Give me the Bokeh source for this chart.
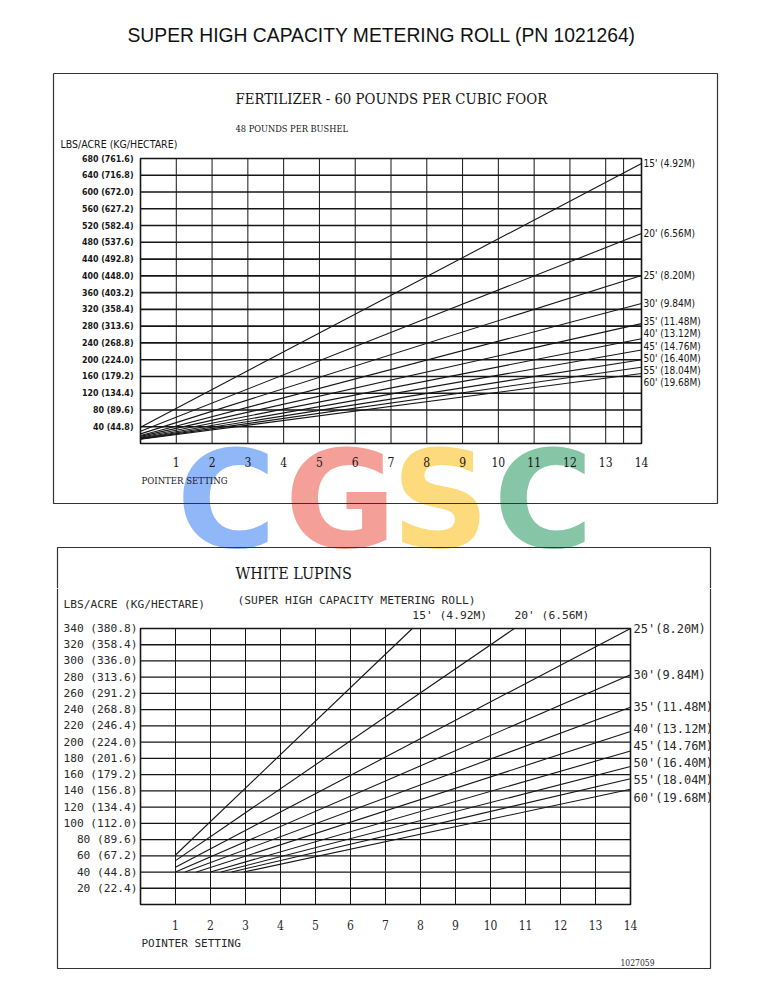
from bokeh.plotting import figure
from bokeh.models import Range1d, FixedTicker, Label, LinearAxis
from bokeh.layouts import column
from bokeh.embed import file_html
from bokeh.resources import INLINE

# ---------------- data ----------------
main_title = "SUPER HIGH CAPACITY METERING ROLL  (PN  1021264)"

settings = list(range(1, 15))

# top chart: fertilizer
top_title = "FERTILIZER - 60 POUNDS PER CUBIC FOOR"
top_subtitle = "48 POUNDS PER BUSHEL"
top_y_ticks = [40, 80, 120, 160, 200, 240, 280, 320, 360, 400, 440, 480, 520, 560, 600, 640, 680]
top_y_kg = ["44.8", "89.6", "134.4", "179.2", "224.0", "268.8", "313.6", "358.4", "403.2",
            "448.0", "492.8", "537.6", "582.4", "627.2", "672.0", "716.8", "761.6"]
top_widths = ["15' (4.92M)", "20' (6.56M)", "25' (8.20M)", "30' (9.84M)", "35' (11.48M)",
              "40' (13.12M)", "45' (14.76M)", "50' (16.40M)", "55' (18.04M)", "60' (19.68M)"]
top_start = [39, 29, 23, 19, 17, 15, 13, 12, 11, 10]          # lbs/acre at pointer 0
top_end = [668, 501, 401, 334, 286, 250, 223, 200, 182, 167]  # lbs/acre at pointer 14

# bottom chart: white lupins
bot_title = "WHITE LUPINS"
bot_subtitle = "(SUPER HIGH CAPACITY METERING ROLL)"
bot_y_ticks = [20, 40, 60, 80, 100, 120, 140, 160, 180, 200, 220, 240, 260, 280, 300, 320, 340]
bot_y_kg = ["22.4", "44.8", "67.2", "89.6", "112.0", "134.4", "156.8", "179.2", "201.6",
            "224.0", "246.4", "268.8", "291.2", "313.6", "336.0", "358.4", "380.8"]
bot_widths = ["15' (4.92M)", "20' (6.56M)", "25'(8.20M)", "30'(9.84M)", "35'(11.48M)",
              "40'(13.12M)", "45'(14.76M)", "50'(16.40M)", "55'(18.04M)", "60'(19.68M)"]
bot_x0 = [1, 1, 1, 1, 1.27, 1.6, 2.0, 2.3, 2.6, 2.95]           # pointer where the line starts
bot_y0 = [61, 54, 46, 40, 40, 40, 40, 40, 40, 40]              # lbs/acre at start
bot_end = [597, 438, 340, 283, 243, 213, 189, 170, 155, 142]   # lbs/acre at pointer 14

doc_number = "1027059"
axis_caption = "LBS/ACRE (KG/HECTARE)"
x_caption = "POINTER SETTING"

wm_letters = ["C", "G", "S", "C"]
wm_colors = ["#8ab4f8", "#f39b92", "#fdd874", "#7fc3a2"]

# ---------------- layout (page pixels) ----------------
W = 772
H1, H2 = 588, 412
TOP2 = H1  # page y where the second figure starts

T_LEFT, T_RIGHT, T_TOP, T_BOTTOM = 140, 641, 158, 443   # top chart area
B_LEFT, B_RIGHT, B_TOP, B_BOTTOM = 140, 630, 628, 904   # bottom chart area

X_MAX = 14
TOP_YMAX = 680
BOT_YMAX = 340

INK = "#161616"
INK2 = "#2a2a2a"
BOX = "#333333"
SERIF_C = "DejaVu Serif Condensed"
SANS_C = "DejaVu Sans Condensed"
MONO = "DejaVu Sans Mono"
RN = dict(x_range_name="set", y_range_name="rate")


def spread(vals, gap):
    pos = list(vals)
    for _ in range(400):
        for i in range(len(pos) - 1):
            d = pos[i] - pos[i + 1]
            if d < gap:
                s = (gap - d) / 2.0
                pos[i] += s
                pos[i + 1] -= s
    return pos


def make_fig(h, fig_top, left, right, top, bottom, ymax):
    top_c, bottom_c = top - fig_top, bottom - fig_top
    sx = X_MAX / (right - left)
    sy = ymax / (bottom_c - top_c)
    p = figure(width=W, height=h, x_range=Range1d(0, W), y_range=Range1d(h, 0),
               x_axis_type=None, y_axis_type=None, output_backend="svg",
               toolbar_location=None, min_border=0, min_border_left=0, min_border_right=0,
               min_border_top=0, min_border_bottom=0)
    p.extra_x_ranges = {"set": Range1d(-left * sx, (W - left) * sx)}
    p.extra_y_ranges = {"rate": Range1d((bottom_c - h) * sy, bottom_c * sy)}
    p.background_fill_color = "white"
    p.border_fill_color = "white"
    p.outline_line_color = None
    return p


def add_text(p, fig_top, px, py, text, font, size, align="left", style="normal", color=INK):
    p.add_layout(Label(x=px, y=py - fig_top, text=text, text_font=font, text_font_size=size,
                       text_align=align, text_baseline="middle", text_font_style=style,
                       text_color=color))


def add_path(p, fig_top, xs, ys):
    p.line(xs, [y - fig_top for y in ys], line_color=BOX, line_width=1.2)


def add_watermark(p, fig_top):
    centers = [226, 340, 440, 543]
    for ch, col, cx in zip(wm_letters, wm_colors, centers):
        p.add_layout(Label(x=cx, y=499 - fig_top, text=ch, text_font="DejaVu Sans",
                           text_font_size="136px", text_font_style="bold", text_align="center",
                           text_baseline="middle", text_color=col, text_alpha=0.95,
                           level="underlay"))


def add_grid(p, xticks, yticks, ymax, hwidth, vwidth):
    p.segment(x0=xticks, y0=[0] * len(xticks), x1=xticks, y1=[ymax] * len(xticks),
              line_color=INK, line_width=vwidth, **RN)
    p.segment(x0=[0] * len(yticks), y0=yticks, x1=[X_MAX] * len(yticks), y1=yticks,
              line_color=INK, line_width=hwidth, **RN)
    p.quad(left=0, right=X_MAX, bottom=0, top=ymax, fill_alpha=0, line_color=INK,
           line_width=1.6, **RN)


def add_axes(p, yticks, ykg, xfont, xsize, xstand, yfont, ysize, ystand, ystyle, color):
    ax = LinearAxis(fixed_location=0, ticker=FixedTicker(ticks=settings), **RN)
    ay = LinearAxis(fixed_location=0, ticker=FixedTicker(ticks=yticks), **RN)
    ay.major_label_overrides = {v: f"{v} ({k})" for v, k in zip(yticks, ykg)}
    for a in (ax, ay):
        a.axis_line_color = None
        a.major_tick_line_color = None
        a.minor_tick_line_color = None
        a.major_tick_out = 0
        a.major_tick_in = 0
        a.major_label_text_color = color
    ax.major_label_text_font = xfont
    ax.major_label_text_font_size = xsize
    ax.major_label_standoff = xstand
    ay.major_label_text_font = yfont
    ay.major_label_text_font_size = ysize
    ay.major_label_text_font_style = ystyle
    ay.major_label_standoff = ystand
    p.add_layout(ax, "below")
    p.add_layout(ay, "left")


# ================= top figure =================
p1 = make_fig(H1, 0, T_LEFT, T_RIGHT, T_TOP, T_BOTTOM, TOP_YMAX)
add_watermark(p1, 0)
# frame of the upper sheet
add_path(p1, 0, [53, 717, 717, 53, 53], [73, 73, 503, 503, 73])
# top part of the lower sheet's frame (continued in the second figure)
add_path(p1, 0, [57, 57, 710, 710], [H1, 547, 547, H1])
add_grid(p1, settings[:-1] + [13.5], top_y_ticks[:-1], TOP_YMAX, 1.6, 1.0)
for s, e in zip(top_start, top_end):
    p1.line([0, X_MAX], [s, e], line_color=INK, line_width=1.1, **RN)
add_axes(p1, top_y_ticks, top_y_kg, SERIF_C, "12px", 13, SANS_C, "8.8px", 7, "bold", INK)

px_x1 = X_MAX / (T_RIGHT - T_LEFT)
for txt, ly in zip(top_widths, spread(top_end, 29)):
    p1.add_layout(Label(x=X_MAX + 2 * px_x1, y=ly, text=txt, text_font=SANS_C,
                        text_font_size="10px", text_align="left", text_baseline="middle",
                        text_color=INK, **RN))

add_text(p1, 0, 127, 35, main_title, "Liberation Sans", "19.3px", color="#111111")
add_text(p1, 0, 235, 98, top_title, SERIF_C, "14.8px")
add_text(p1, 0, 235, 128, top_subtitle, SERIF_C, "9.2px")
add_text(p1, 0, 60, 143, axis_caption, SANS_C, "10.5px")
add_text(p1, 0, 141, 480, x_caption, SERIF_C, "9.5px")
add_text(p1, 0, 235, 573, bot_title, SERIF_C, "16px")

# ================= bottom figure =================
p2 = make_fig(H2, TOP2, B_LEFT, B_RIGHT, B_TOP, B_BOTTOM, BOT_YMAX)
add_path(p2, TOP2, [57, 57, 710, 710], [TOP2, 968, 968, TOP2])
add_grid(p2, settings[:-1], bot_y_ticks[:-1], BOT_YMAX, 1.3, 1.0)

for x0, y0, e in zip(bot_x0, bot_y0, bot_end):
    if e > BOT_YMAX:   # line leaves the chart through its top edge
        x1 = x0 + (BOT_YMAX - y0) / (e - y0) * (X_MAX - x0)
        y1 = BOT_YMAX
    else:
        x1, y1 = X_MAX, e
    p2.line([x0, x1], [y0, y1], line_color=INK, line_width=1.1, **RN)
add_axes(p2, bot_y_ticks, bot_y_kg, SERIF_C, "12px", 15, MONO, "11.2px", 3, "normal", INK2)

px_x2 = X_MAX / (B_RIGHT - B_LEFT)
px_y2 = BOT_YMAX / (B_BOTTOM - B_TOP)
right_idx = [i for i, e in enumerate(bot_end) if e <= BOT_YMAX]
for i, ly in zip(right_idx, spread([bot_end[i] for i in right_idx], 21)):
    p2.add_layout(Label(x=X_MAX + 3 * px_x2, y=ly, text=bot_widths[i], text_font=MONO,
                        text_font_size="12px", text_align="left", text_baseline="middle",
                        text_color=INK2, **RN))
for i, (x0, y0, e) in enumerate(zip(bot_x0, bot_y0, bot_end)):
    if e > BOT_YMAX:
        xc = x0 + (BOT_YMAX - y0) / (e - y0) * (X_MAX - x0)
        p2.add_layout(Label(x=xc, y=BOT_YMAX + 13 * px_y2, text=bot_widths[i], text_font=MONO,
                            text_font_size="11.3px", text_align="left", text_baseline="middle",
                            text_color=INK2, **RN))

add_text(p2, TOP2, 237, 600, bot_subtitle, MONO, "11.3px", color=INK2)
add_text(p2, TOP2, 63, 604, axis_caption, MONO, "11.2px", color=INK2)
add_text(p2, TOP2, 141, 943, x_caption, MONO, "11px", color=INK2)
add_text(p2, TOP2, 620, 962, doc_number, SERIF_C, "8.5px", color=INK2)

layout = column(p1, p2, spacing=0)
open("out.html", "w").write(file_html(layout, INLINE))
